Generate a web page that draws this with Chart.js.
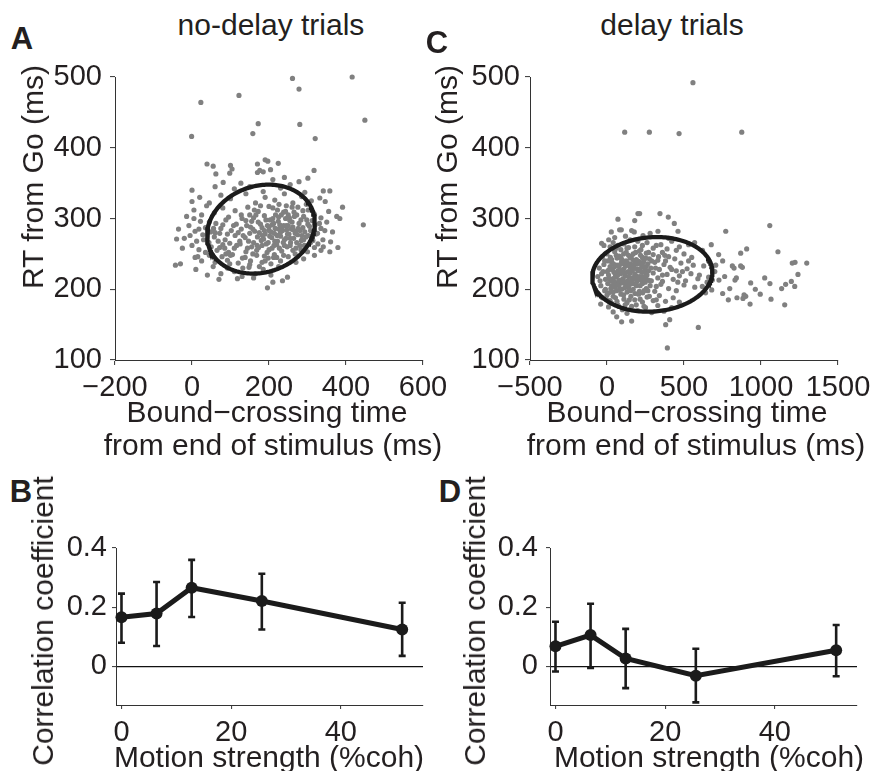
<!DOCTYPE html>
<html>
<head>
<meta charset="utf-8">
<script src="https://cdn.jsdelivr.net/npm/chart.js@4/dist/chart.umd.min.js"></script>
<style>
  html,body{margin:0;padding:0;background:#fff;}
  #wrap{position:relative;width:884px;height:771px;overflow:hidden;background:#fff;}
  canvas{position:absolute;}
  .t{position:absolute;font-family:'Liberation Sans',Arial,Helvetica,sans-serif;font-size:30px;color:#231f20;
     line-height:1;white-space:nowrap;transform:translate(-50%,-50%);}
  .r{transform:translate(-50%,-50%) rotate(-90deg);}
  .L{font-weight:bold;font-size:31px;}
</style>
</head>
<body>
<div id="wrap">
  <canvas id="cA" width="470" height="348" style="left:0px;top:57px;"></canvas>
  <canvas id="cC" width="469" height="348" style="left:415px;top:57px;"></canvas>
  <canvas id="cB" width="470" height="222" style="left:0px;top:528px;"></canvas>
  <canvas id="cD" width="449" height="222" style="left:435px;top:528px;"></canvas>

  <div class="t" style="left:271px;top:25px;">no-delay trials</div>
  <div class="t" style="left:672px;top:25px;">delay trials</div>
  <div class="t L" style="left:22px;top:38px;">A</div>
  <div class="t L" style="left:437px;top:42px;">C</div>
  <div class="t L" style="left:21px;top:491px;">B</div>
  <div class="t L" style="left:450px;top:491px;">D</div>
  <div class="t r" style="left:33px;top:177px;">RT from Go (ms)</div>
  <div class="t r" style="left:447px;top:177px;">RT from Go (ms)</div>
  <div class="t" style="left:267px;top:412px;">Bound&#8722;crossing time</div>
  <div class="t" style="left:273px;top:445px;">from end of stimulus (ms)</div>
  <div class="t" style="left:687px;top:412px;">Bound&#8722;crossing time</div>
  <div class="t" style="left:696px;top:445px;">from end of stimulus (ms)</div>
  <div class="t r" style="left:43px;top:621px;">Correlation coefficient</div>
  <div class="t r" style="left:475px;top:621px;">Correlation coefficient</div>
  <div class="t" style="left:269px;top:757px;">Motion strength (%coh)</div>
  <div class="t" style="left:709px;top:757px;">Motion strength (%coh)</div>
</div>
<script>
// ---------------- DATA ----------------
// Panel A: no-delay trials, [bound-crossing time (ms), RT from Go (ms)]
const noDelayPoints = [
 [261,498],[416,500],[278,483],[23,464],[122,474],[449,439],[172,434],[280,433],[158,420],[-1,416],[320,413],[445,291],[196,202],
 [39,377],[55,374],[62,363],[100,375],[104,370],[98,364],[170,377],[190,383],[224,378],[176,368],[185,366],[204,369],[240,358],[317,368],[301,357],[197,381],[170,365],
 [0,340],[81,351],[127,350],[278,352],[293,337],[341,339],[358,339],[150,345],[210,355],[255,348],[60,345],[110,342],[230,343],
 [0,324],[332,329],[346,324],[20,330],[45,322],[75,333],[100,328],[140,335],[165,322],[190,330],[215,326],[240,335],[262,322],[285,331],[310,325],[185,338],
 [391,316],[376,303],[384,300],[-14,303],[5,312],[25,305],[38,318],[58,308],[80,315],[95,302],[112,311],[128,305],[145,316],[160,301],[172,310],[188,304],[200,317],[210,300],[222,312],[232,305],[245,318],[253,301],[265,309],[275,316],[290,303],[302,312],[318,306],[335,301],[355,310],[225,302],[238,309],
 [-35,285],[-8,290],[8,282],[22,296],[35,287],[48,281],[62,293],[75,286],[88,298],[102,283],[115,292],[128,285],[140,297],[152,288],[163,282],[172,295],[182,287],[192,298],[200,283],[208,291],[216,286],[224,296],[230,281],[238,290],[246,284],[254,297],[262,288],[270,282],[278,293],[288,287],[298,298],[308,283],[320,291],[335,286],[350,295],[365,281],[212,293],[234,288],[258,285],[196,290],
 [-40,271],[-20,272],[12,268],[28,277],[44,266],[58,274],[72,279],[86,270],[98,265],[112,276],[124,268],[138,273],[150,279],[160,266],[170,274],[180,269],[190,278],[198,266],[207,273],[214,279],[222,268],[230,275],[240,270],[248,278],[256,266],[264,272],[274,277],[284,269],[296,274],[308,266],[322,278],[340,270],[360,267],[379,259],[341,260],[226,277],[244,272],[202,275],[186,271],
 [235,283],[250,290],[268,279],[285,276],[215,268],[240,262],[260,295],[200,288],[175,280],[290,270],[305,289],[225,285],
 [0,262],[18,256],[35,252],[50,260],[65,255],[80,263],[95,252],[110,258],[125,264],[140,253],[155,260],[168,255],[182,262],[195,252],[208,258],[220,263],[233,254],[247,260],[262,255],[280,262],[300,253],[318,259],[335,255],[358,253],
 [-30,236],[8,245],[25,240],[45,248],[60,238],[78,246],[92,241],[105,249],[120,237],[138,245],[152,240],[168,248],[182,238],[198,244],[214,249],[230,240],[250,246],[270,238],[290,243],[318,248],
 [-43,234],[10,228],[40,220],[55,232],[75,222],[92,230],[110,225],[130,218],[148,231],[165,222],[185,228],[205,220],[225,232],[248,217],[160,216],[118,215],
 [210,210],[235,212],[70,214],
 [130,300],[142,290],[155,296],[166,305],[178,292],[188,283],[203,298],[217,305],[228,291],[243,300],[252,278],[266,303],[276,286],[283,298],[293,281],[301,292],[312,297],[326,279],[331,293],[345,283],
 [120,280],[133,276],[147,268],[158,285],[169,262],[183,276],[193,264],[205,281],[213,262],[221,276],[237,266],[245,290],[255,272],[263,284],[272,266],[281,283],[292,262],[302,276],[314,269],[327,264],
 [108,290],[92,278],[80,291],[68,268],[56,286],[85,258],[100,248],[116,262],[131,244],[144,258],[158,250],[173,259],[188,247],[200,256],[212,245],[227,258],[238,248],[255,262],[268,250],[283,256],
 [210,315],[226,320],[243,310],[260,316],[272,305],[288,311],[297,320],[178,318],[162,312],[150,305],
 [190,240],[205,236],[220,245],[150,235],[132,230],[175,232],[98,236],[88,250],[72,259],[60,280],[45,295],[30,270],[18,285],[-5,276],[5,300],[-25,258],[15,246],[270,258],[310,275],[250,305]
];
// Panel C: delay trials
const delayPoints = [
 [558,492],[115,422],[275,422],[468,420],[875,422],[392,117],[593,146],[381,150],[407,157],[95,154],[160,155],[63,161],[-41,179],
 [71,299],[201,307],[212,307],[344,307],[398,302],[437,293],[180,297],
 [28,281],[82,284],[93,284],[160,283],[177,281],[461,282],[11,270],[234,276],[331,282],[280,279],[120,275],[400,272],[50,273],
 [-20,262],[40,266],[60,258],[110,264],[140,259],[200,268],[230,262],[260,266],[300,258],[350,263],[390,257],[420,268],[470,260],[530,263],[569,266],[677,263],[150,270],[90,256],
 [-30,246],[0,250],[30,242],[50,253],[80,247],[100,241],[125,252],[150,244],[170,250],[190,242],[210,254],[230,245],[255,251],[275,243],[300,249],[330,241],[360,252],[400,246],[440,243],[500,250],[550,245],[725,249],[751,240],[65,244],[140,248],[240,241],
 [-50,230],[-20,235],[10,227],[30,238],[50,232],[70,226],[90,236],[110,229],[130,238],[150,231],[165,226],[180,236],[195,229],[210,239],[225,233],[245,227],[265,236],[285,230],[310,238],[340,228],[370,235],[410,231],[450,226],[480,237],[520,229],[560,234],[628,233],[706,234],[20,232],[120,233],[200,226],[255,232],[95,239],[175,233],
 [-60,218],[-35,222],[-10,214],[10,220],[25,212],[45,224],[60,217],[75,211],[90,222],[105,215],[120,219],[135,212],[150,223],[165,216],[180,221],[195,211],[210,218],[225,224],[240,214],[260,220],[280,212],[300,223],[330,216],[360,211],[390,221],[430,214],[470,219],[510,212],[545,222],[590,215],[660,217],[40,215],[115,223],[185,214],[250,217],[70,220],[140,218],[220,213],
 [-40,205],[-15,198],[5,208],[25,201],[40,196],[60,206],[80,199],[100,209],[115,202],[130,196],[150,207],[170,200],[190,205],[210,197],[230,208],[255,201],[280,205],[310,197],[350,207],[400,201],[450,198],[500,206],[570,203],[619,204],[680,199],[50,203],[140,202],[240,198],
 [-30,188],[0,192],[20,184],[40,190],[65,183],[90,193],[110,186],[130,181],[155,190],[180,185],[205,193],[230,182],[260,189],[300,184],[340,191],[380,183],[430,188],[470,182],
 [10,175],[40,168],[70,178],[100,171],[130,166],[160,176],[200,170],[250,174],[290,167],[330,177],[370,169],[420,174],
 [0,225],[15,215],[35,228],[55,220],[65,234],[85,213],[98,227],[112,236],[125,210],[138,225],[152,236],[160,212],[172,230],[188,219],[198,240],[215,228],[228,218],[238,232],[252,222],[268,213],
 [5,240],[22,245],[42,236],[60,248],[78,232],[92,244],[108,250],[124,240],[140,234],[158,246],[172,241],[186,252],[200,236],[218,248],[236,238],[252,244],[270,226],[290,240],[315,230],[335,246],
 [-10,200],[12,195],[30,205],[48,210],[62,198],[78,205],[95,200],[108,192],[122,205],[138,210],[155,198],[168,208],[182,194],[198,215],[215,205],[232,195],[248,210],[265,198],[288,212],[320,204],
 [-45,212],[-25,225],[-15,240],[-5,186],[30,180],[55,188],[75,176],[118,178],[145,185],[190,178],[215,186],[240,176],[275,190],[320,185],[360,220],[380,240],[420,228],[460,210],[490,225],[530,240],
 [-35,265],[20,260],[70,262],[130,258],[180,260],[220,256],[270,252],[320,262],[375,248],[450,255],
 [1057,290],[1110,253],[1297,237],[1203,237],[1221,238],[1240,221],[1219,204],[1197,211],[1160,207],[1134,201],[1154,178],[1065,186],[1024,216],[1058,208],[995,193],[963,200],[933,209],[929,179],[901,190],[883,187],[890,192],[844,188],[788,185],[797,201],[751,194],[771,282],[907,257],[868,251],[868,233],[879,231],[825,230],[814,233],[840,216],[831,213],[764,218],[727,213],[684,213],[640,195],[700,225],[660,240],[620,255],[600,220],[650,210]
];
// Covariance ellipses: centre, x half-width, y coupling, y half-height
const ellipseNoDelay = {cx:179, cy:285, ax:140, bx:9.1, by:62.2};
const ellipseDelay   = {cx:294, cy:221, ax:390, bx:3.9, by:52.6};

// Tick values
const xTicksA = [-200, 0, 200, 400, 600];
const xTicksC = [-500, 0, 500, 1000, 1500];
const yTicksRT = [100, 200, 300, 400, 500];

// Panels B and D: correlation vs motion strength
const motionStrength = [0, 6.4, 12.8, 25.6, 51.2];
const corrNoDelay     = [0.166, 0.179, 0.266, 0.221, 0.125];
const corrNoDelayLow  = [0.080, 0.069, 0.167, 0.125, 0.036];
const corrNoDelayHigh = [0.246, 0.285, 0.360, 0.313, 0.215];
const corrDelay       = [0.068, 0.106, 0.027, -0.031, 0.055];
const corrDelayLow    = [-0.017, -0.005, -0.073, -0.121, -0.033];
const corrDelayHigh   = [0.151, 0.212, 0.127, 0.060, 0.140];
const xTicksCoh = [0, 20, 40];
const yTicksCorr = [0, 0.2, 0.4];

// ---------------- RENDER ----------------
Chart.defaults.font.family = "'Liberation Sans', Arial, Helvetica, sans-serif";
Chart.defaults.color = '#231f20';
Chart.defaults.animation = false;

const INK = '#1b1b1b';
const AXIS = '#333333';
const fmt = v => String(v).replace('-', '\u2212');

function ellipsePoints(e) {
  const pts = [];
  const n = 200;
  for (let i = 0; i <= n; i++) {
    const t = 2 * Math.PI * i / n;
    pts.push({x: e.cx + e.ax * Math.cos(t), y: e.cy + e.bx * Math.cos(t) + e.by * Math.sin(t)});
  }
  return pts;
}

function axisCommon(tickVals, min, max, isX, size, padTicks, tickLen, zeroLine) {
  return {
    type: 'linear', min: min, max: max,
    afterBuildTicks: s => { s.ticks = tickVals.map(v => ({value: v})); },
    afterFit: s => {
      if (isX) { s.height = size; s.paddingLeft = 0; s.paddingRight = 0; }
      else { s.width = size; s.paddingTop = 0; s.paddingBottom = 0; }
    },
    border: {display: true, color: AXIS, width: 1},
    grid: {
      display: true,
      drawOnChartArea: !!zeroLine,
      color: ctx => (zeroLine && ctx.tick && ctx.tick.value === 0) ? '#111' : 'rgba(0,0,0,0)',
      lineWidth: 1.2,
      drawTicks: true, tickLength: tickLen, tickColor: AXIS, tickWidth: 1
    },
    ticks: {
      autoSkip: false, maxRotation: 0, minRotation: 0,
      padding: padTicks,
      font: {size: 29, lineHeight: 1},
      color: '#231f20',
      callback: v => fmt(v)
    }
  };
}

function scatterPanel(id, pts, ell, xTicks, xMin, xMax, yPad, padRight) {
  new Chart(document.getElementById(id), {
    type: 'scatter',
    data: {
      datasets: [
        {data: ellipsePoints(ell), showLine: true, pointRadius: 0, borderColor: INK, borderWidth: 4.3,
         fill: false, tension: 0, order: 0, clip: false},
        {data: pts.map(p => ({x: p[0], y: p[1]})), pointRadius: 2.6, pointBackgroundColor: '#808080',
         pointBorderWidth: 0, backgroundColor: '#808080', borderColor: '#808080', order: 1, clip: false}
      ]
    },
    options: {
      responsive: false, devicePixelRatio: 1,
      layout: {padding: {left: 0, right: padRight, top: 20, bottom: 0}},
      plugins: {legend: {display: false}, tooltip: {enabled: false}},
      scales: {
        x: axisCommon(xTicks, xMin, xMax, true, 45, 8, 5, false),
        y: axisCommon(yTicksRT, 100, 500, false, 115, yPad, 5, false)
      }
    }
  });
}

const errorBars = {
  id: 'errorBars',
  beforeDatasetsDraw(chart, args, opts) {
    const ctx = chart.ctx, xs = chart.scales.x, ys = chart.scales.y;
    ctx.save();
    ctx.strokeStyle = INK; ctx.lineWidth = 2.6; ctx.lineCap = 'butt';
    opts.x.forEach((xv, i) => {
      const px = xs.getPixelForValue(xv);
      const y1 = ys.getPixelForValue(opts.low[i]);
      const y2 = ys.getPixelForValue(opts.high[i]);
      ctx.beginPath();
      ctx.moveTo(px, y1); ctx.lineTo(px, y2);
      ctx.moveTo(px - 3.5, y1); ctx.lineTo(px + 3.5, y1);
      ctx.moveTo(px - 3.5, y2); ctx.lineTo(px + 3.5, y2);
      ctx.stroke();
    });
    ctx.restore();
  }
};

function corrPanel(id, vals, lo, hi, yWidth, yPad, padRight) {
  new Chart(document.getElementById(id), {
    type: 'scatter',
    data: {
      datasets: [{
        data: motionStrength.map((m, i) => ({x: m, y: vals[i]})),
        showLine: true, borderColor: INK, borderWidth: 5, tension: 0,
        pointRadius: 6, pointBackgroundColor: INK, pointBorderWidth: 0, clip: false
      }]
    },
    options: {
      responsive: false, devicePixelRatio: 1,
      layout: {padding: {left: 0, right: padRight, top: 20, bottom: 0}},
      plugins: {legend: {display: false}, tooltip: {enabled: false},
                errorBars: {x: motionStrength, low: lo, high: hi}},
      scales: {
        x: axisCommon(xTicksCoh, -1, 55, true, 45, 9, 4, false),
        y: axisCommon(yTicksCorr, -0.13, 0.4, false, yWidth, yPad, 4, true)
      }
    },
    plugins: [errorBars]
  });
}

scatterPanel('cA', noDelayPoints, ellipseNoDelay, xTicksA, -200, 600, 8, 47);
scatterPanel('cC', delayPoints, ellipseDelay, xTicksC, -500, 1500, 5, 46);
corrPanel('cB', corrNoDelay, corrNoDelayLow, corrNoDelayHigh, 116, 5, 47);
corrPanel('cD', corrDelay, corrDelayLow, corrDelayHigh, 115, 8, 27);
</script>
</body>
</html>
